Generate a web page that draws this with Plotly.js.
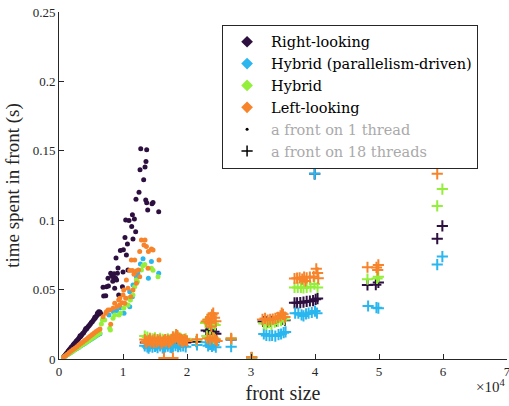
<!DOCTYPE html>
<html><head><meta charset="utf-8">
<script src="https://cdn.plot.ly/plotly-3.0.1.min.js"></script>
<style>html,body{margin:0;padding:0;background:#fff}#c{width:509px;height:406px}</style>
</head><body><div id="c"></div>
<script>
// ---- data: front size and time (s) ----
// Right-looking, 1 thread
const rl1x = [700,850,1000,1150,1300,1450,1600,1750,1900,2050,2200,2350,2500,2650,2800,2950,3100,3250,3400,3550,3700,3850,4000,4150,4300,4450,4600,4750,4900,5050,5200,5350,5500,5650,5800,5950,6100,6250,6400,3300,4200,5600,6000,6500,6200,
  12770,13700,13590,13440,12660,13230,12500,12030,13550,13700,14530,14690,13860,15580,11470,10940,11780,10420,11360,11980,11560,10310,10690,10060,9590,10530,8910,9220,10780,10000,9130,8080,8440,7660,8860,6880,7410,7720,6980,7300,8700,9910,9330,8250,8600,9000,8400];
const rl1y = [.0015,.0021,.0031,.0040,.0047,.0058,.0066,.0074,.0084,.0090,.0100,.0109,.0115,.0126,.0133,.0140,.0150,.0159,.0164,.0175,.0183,.0190,.0201,.0212,.0216,.0227,.0236,.0243,.0252,.0263,.0268,.0279,.0289,.0295,.0306,.0316,.0323,.0332,.0338,.0168,.0220,.0300,.0330,.0328,.0340,
  .1514,.1507,.1423,.1384,.1363,.1291,.1202,.1151,.1146,.1125,.1118,.1127,.1074,.1060,.1040,.0997,.1009,.1002,.0954,.0916,.0865,.0875,.0829,.0788,.0781,.0750,.0728,.0656,.0642,.0627,.0618,.0618,.0593,.0582,.0582,.0517,.0521,.0526,.0454,.0456,.0510,.0521,.0461,.0600,.0615,.0570,.0560];
// Right-looking, 18 threads
const rl18x = [13500,14200,14900,15600,16300,17000,17700,18400,19100,19800,21500,23000,23400,23800,24200,24500,26900,30100,
  31900,32500,33100,34000,34800,35300,36800,37200,37700,38200,38700,39200,39700,40100,40400,39950,48200,49500,49900,59900,59100];
const rl18y = [.0118,.0115,.0120,.0116,.0119,.0114,.0121,.0117,.0120,.0118,.0125,.0205,.0200,.0212,.0196,.0182,.0140,.0010,
  .0270,.0268,.0272,.0275,.0285,.0280,.0405,.0405,.0406,.0410,.0415,.0418,.0420,.0430,.0435,.1334,.0534,.0535,.0552,.0959,.0867];

// Hybrid (parallelism-driven), 1 thread
const hp1x = [700,1000,1300,1600,1900,2200,2500,2800,3100,3400,3700,4000,4300,4600,4900,5200,5500,5800,6100,6400,
  7810,10160,11470,12090,13130,14440,15580,13970,12300,11560,11050,9590,12720,11050,8500,9000];
const hp1y = [.0011,.0020,.0030,.0039,.0048,.0057,.0066,.0075,.0084,.0093,.0102,.0111,.0120,.0129,.0138,.0147,.0156,.0165,.0174,.0182,
  .0317,.0329,.0449,.0593,.0723,.0702,.0618,.0582,.0618,.0534,.0377,.0370,.0685,.0485,.0340,.0350];
// Hybrid (parallelism-driven), 18 threads
const hp18x = [13400,13800,14200,14600,15000,15400,15800,16200,16600,17000,17400,17800,18200,18600,19000,19400,19800,14000,15200,16400,17600,18800,
  21560,23000,23300,23600,23900,24200,24500,24300,23700,26900,
  32000,32400,32900,33300,33800,34300,34700,35100,35400,36900,37400,37900,38200,38600,39000,39500,40000,40300,39950,48300,49600,49900,59900,59100];
const hp18y = [.0095,.0088,.0092,.0085,.0090,.0082,.0094,.0080,.0088,.0092,.0086,.0090,.0097,.0089,.0093,.0095,.0088,.0078,.0100,.0075,.0082,.0105,
  .0101,.0120,.0095,.0105,.0090,.0100,.0085,.0120,.0130,.0089,
  .0180,.0170,.0168,.0170,.0165,.0175,.0180,.0190,.0195,.0330,.0330,.0318,.0310,.0325,.0330,.0335,.0345,.0330,.1334,.0382,.0370,.0366,.0738,.0680];

// Hybrid, 1 thread
const hy1x = [700,1000,1300,1600,1900,2200,2500,2800,3100,3400,3700,4000,4300,4600,4900,5200,5500,5800,6100,6400,
  7920,6620,7140,8700,9590,10110,10780,11160,11560,11830,12090,12880,13130,14440,15470,12250,10780,10420,9380,8440,8030,6780,14690,13400];
const hy1y = [.0012,.0021,.0031,.0040,.0049,.0058,.0067,.0077,.0085,.0095,.0104,.0114,.0122,.0132,.0141,.0151,.0160,.0170,.0179,.0187,
  .0221,.0252,.0281,.0317,.0329,.0366,.0389,.0425,.0461,.0521,.0570,.0642,.0671,.0654,.0593,.0557,.0438,.0394,.0317,.0293,.0209,.0281,.0640,.0680];
// Hybrid, 18 threads
const hy18x = [13400,13800,14200,14600,15000,15400,15800,16200,16600,17000,17400,17800,18200,18600,19000,19400,19800,21500,
  22900,23200,23500,23800,24100,24400,23100,23600,24200,26900,30100,
  32000,32400,32800,33200,33700,34200,34700,35200,36800,37300,37800,38200,38700,39300,39900,40400,48200,49700,49900,59900,59100];
const hy18y = [.0165,.0158,.0150,.0145,.0152,.0140,.0148,.0142,.0138,.0146,.0140,.0150,.0162,.0158,.0148,.0140,.0145,.0138,
  .0260,.0280,.0250,.0270,.0255,.0245,.0165,.0160,.0150,.0145,.0010,
  .0255,.0250,.0262,.0250,.0265,.0270,.0276,.0285,.0515,.0515,.0515,.0512,.0516,.0520,.0540,.0515,.0575,.0580,.0592,.1224,.1103];

// Left-looking, 1 thread
const ll1x = [700,1000,1300,1600,1900,2200,2500,2800,3100,3400,3700,4000,4300,4600,4900,5200,5500,5800,6100,6400,
  6880,7410,7920,8440,9060,9480,9850,10420,8080,11310,11830,12610,12880,13440,13280,13660,14440,14690,15630,13970,12410,11470,11050,10530,11720,12090,11560,10780,10000,13910,12610,9330,8700,7660,7300,10270,11200,12090,10110,9480];
const ll1y = [.0013,.0024,.0035,.0046,.0057,.0068,.0078,.0089,.0100,.0111,.0121,.0133,.0143,.0154,.0165,.0176,.0187,.0198,.0208,.0216,
  .0305,.0341,.0353,.0366,.0377,.0389,.0406,.0438,.0250,.0714,.0714,.0774,.0858,.0858,.0822,.0810,.0793,.0786,.0714,.0774,.0642,.0637,.0637,.0570,.0611,.0546,.0497,.0510,.0461,.0654,.0593,.0425,.0402,.0353,.0329,.0402,.0449,.0634,.0497,.0438];
// Left-looking, 18 threads
const ll18x = [13400,13700,14000,14300,14600,14900,15200,15500,15800,16100,16400,16700,17000,17300,17600,17900,18200,18500,18800,19100,19400,19700,20000,
  13600,14200,14800,15400,16000,16600,17200,17800,18300,18700,19200,19600,16400,17800,21560,
  23000,23300,23500,23700,23900,24100,24300,24500,23800,23200,23600,24000,24400,24700,26900,30100,
  31800,32200,32600,33000,33400,33800,34200,34600,35000,35300,34800,
  36800,37200,37600,38000,38300,38700,39200,39800,40200,40400,40500,38500,48200,49600,49900,49800,59100];
const ll18y = [.0140,.0128,.0134,.0124,.0131,.0142,.0121,.0128,.0136,.0122,.0130,.0125,.0137,.0129,.0133,.0146,.0155,.0168,.0150,.0140,.0128,.0135,.0130,
  .0118,.0145,.0117,.0138,.0115,.0140,.0120,.0160,.0175,.0138,.0125,.0142,.0008,.0008,.0142,
  .0270,.0285,.0262,.0300,.0318,.0330,.0298,.0272,.0235,.0150,.0140,.0155,.0142,.0130,.0149,.0012,
  .0285,.0292,.0280,.0286,.0288,.0292,.0300,.0310,.0322,.0302,.0330,
  .0580,.0582,.0585,.0575,.0590,.0585,.0590,.0595,.0650,.0620,.0582,.0562,.0661,.0660,.0678,.0642,.1334];

const methods = ['Right-looking','Hybrid (parallelism-driven)','Hybrid','Left-looking'];
const colors = ['#2D1040','#2AB6EF','#93EF3A','#F7832A'];
const xTicks = [0,10000,20000,30000,40000,50000,60000,70000];
const xTickText = ['0','1','2','3','4','5','6','7'];
const yTicks = [0,0.05,0.1,0.15,0.2,0.25];
const yTickText = ['0','0.05','0.1','0.15','0.2','0.25'];

const series = [[rl1x,rl1y,rl18x,rl18y],[hp1x,hp1y,hp18x,hp18y],[hy1x,hy1y,hy18x,hy18y],[ll1x,ll1y,ll18x,ll18y]];
const traces = [];
series.forEach((s,i)=>{
  traces.push({type:'scatter',mode:'markers',x:s[0],y:s[1],showlegend:false,hoverinfo:'skip',
    marker:{symbol:'circle',size:5,color:colors[i],line:{width:0}}});
  traces.push({type:'scatter',mode:'markers',x:s[2],y:s[3],showlegend:false,hoverinfo:'skip',
    marker:{symbol:'cross-thin',size:8,color:colors[i],line:{width:2,color:colors[i]}}});
});
methods.forEach((m,i)=>{
  traces.push({type:'scatter',mode:'markers',x:[null],y:[null],name:m,
    marker:{symbol:'diamond',size:9,color:colors[i],line:{width:0}}});
});
traces.push({type:'scatter',mode:'markers',x:[null],y:[null],name:'<span style="color:#aaaaaa">a front on 1 thread</span>',
  marker:{symbol:'circle',size:3,color:'#000'}});
traces.push({type:'scatter',mode:'markers',x:[null],y:[null],name:'<span style="color:#aaaaaa">a front on 18 threads</span>',
  marker:{symbol:'cross-thin',size:8,color:'#000',line:{width:1.5,color:'#000'}}});

const layout = {
  width:509,height:406,margin:{l:59,r:2,t:12,b:47},
  font:{family:'Liberation Serif',size:13,color:'#262626'},
  paper_bgcolor:'#fff',plot_bgcolor:'#fff',
  showlegend:true,
  legend:{x:0.364,y:0.963,xanchor:'left',yanchor:'top',bgcolor:'#fff',bordercolor:'#262626',borderwidth:1,
    font:{family:'DejaVu Serif',size:14.5,color:'#000'},itemwidth:38,traceorder:'normal'},
  xaxis:{range:[0,70000],tickvals:xTicks,ticktext:xTickText,ticks:'inside',ticklen:5,tickcolor:'#262626',
    showline:true,linecolor:'#262626',linewidth:1,showgrid:false,zeroline:false,
    tickfont:{family:'Liberation Serif',size:13,color:'#262626'},ticklabeloverflow:'allow',
    title:{text:'front size',font:{family:'Liberation Serif',size:20,color:'#262626'},standoff:8}},
  yaxis:{range:[0,0.25],tickvals:yTicks,ticktext:yTickText,ticks:'inside',ticklen:5,tickcolor:'#262626',
    showline:true,linecolor:'#262626',linewidth:1,showgrid:false,zeroline:false,
    tickfont:{family:'Liberation Serif',size:13,color:'#262626'},
    title:{text:'time spent in front (s)',font:{family:'Liberation Serif',size:19,color:'#262626'},standoff:8}},
  annotations:[{xref:'paper',yref:'paper',x:1,y:-0.078,xanchor:'right',yanchor:'middle',showarrow:false,
    text:'×10<sup>4</sup>',font:{family:'Liberation Serif',size:15,color:'#262626'}}]
};
Plotly.newPlot('c',traces,layout,{staticPlot:true,displayModeBar:false});
</script></body></html>
